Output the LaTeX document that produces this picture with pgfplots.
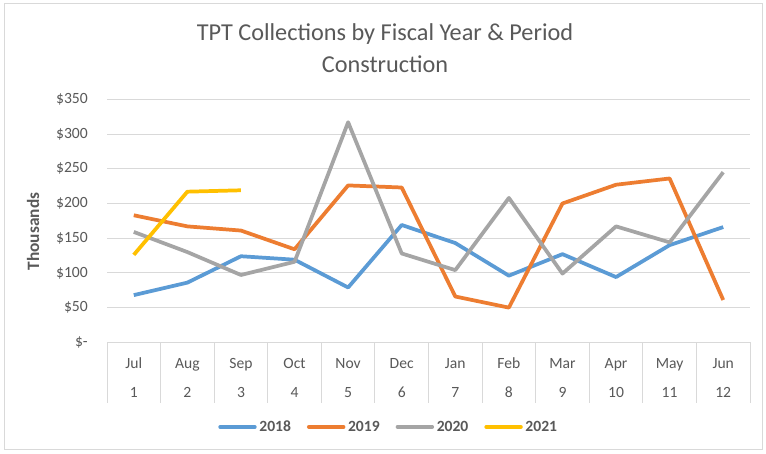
\documentclass[border=0pt]{standalone}
\usepackage{pgfplots}
\pgfplotsset{compat=1.18}
\usepackage{fontspec}
\setmainfont{Carlito}
\definecolor{c18}{HTML}{5B9BD5}
\definecolor{c19}{HTML}{ED7D31}
\definecolor{c20}{HTML}{A5A5A5}
\definecolor{c21}{HTML}{FFC000}
\definecolor{txt}{HTML}{595959}
\definecolor{gridc}{HTML}{D9D9D9}
\begin{document}
\begin{tikzpicture}
\useasboundingbox (0,0) rectangle (574.5pt,339.75pt);
\fill[white] (0,0) rectangle (574.5pt,339.75pt);
\draw[gridc, line width=0.75pt] (3pt,2.5pt) rectangle (571.5pt,337pt);
\begin{axis}[
  at={(80.25pt,83pt)}, anchor=south west,
  scale only axis, width=482.25pt, height=182.25pt,
  xmin=0.5, xmax=12.5, ymin=0, ymax=350,
  clip=false,
  axis line style={draw=none},
  major tick length=0pt,
  ytick={0,50,...,350},
  yticklabels={\$-,\$50,\$100,\$150,\$200,\$250,\$300,\$350},
  ymajorgrids, grid style={gridc, line width=0.75pt},
  xtick={1,...,12},
  xticklabels={Jul,Aug,Sep,Oct,Nov,Dec,Jan,Feb,Mar,Apr,May,Jun},
  extra x ticks={1,...,12},
  extra x tick labels={1,2,3,4,5,6,7,8,9,10,11,12},
  extra x tick style={grid=none, xticklabel style={yshift=-21.8pt}},
  ticklabel style={font=\fontsize{11.7}{13}\selectfont, text=txt},
  yticklabel style={anchor=east, inner sep=0pt, xshift=-14.25pt},
  xticklabel style={anchor=base, inner sep=0pt, yshift=-19.5pt},
  legend style={at={(0.4386,-0.348)}, anchor=center, draw=none, fill=none,
    legend columns=4, font=\bfseries\fontsize{11.7}{13}\selectfont, text=txt,
    /tikz/every even column/.append style={column sep=10pt}},
  legend image code/.code={\draw[#1, line cap=round] (0pt,0pt) -- (26pt,0pt);},
  every axis plot/.append style={line width=2.8pt, line join=round, mark=none},
]
\addplot[c18] coordinates {(1,68) (2,86) (3,124) (4,119) (5,79) (6,169) (7,143) (8,96) (9,127) (10,94) (11,140) (12,166)};
\addplot[c19] coordinates {(1,183) (2,167) (3,161) (4,134) (5,226) (6,223) (7,66) (8,50) (9,200) (10,227) (11,236) (12,61)};
\addplot[c20] coordinates {(1,159) (2,130) (3,97) (4,116) (5,317) (6,128) (7,104) (8,208) (9,99) (10,167) (11,144) (12,245)};
\addplot[c21] coordinates {(1,126) (2,217) (3,219)};
\legend{2018,2019,2020,2021}
\pgfplotsinvokeforeach{0.5,1.5,...,12.5}{\draw[gridc, line width=0.75pt] (axis cs:#1,0) -- ++(0pt,-45.5pt);}
\end{axis}
\node[anchor=base, font=\fontsize{18.2}{20}\selectfont, text=txt, inner sep=0pt] at (288.75pt,309.2pt) {TPT Collections by Fiscal Year \& Period};
\node[anchor=base, font=\fontsize{18.2}{20}\selectfont, text=txt, inner sep=0pt] at (288.75pt,285.5pt) {Construction};
\node[rotate=90, font=\bfseries\fontsize{13}{15}\selectfont, text=txt, inner sep=0pt] at (24.75pt,166.1pt) {Thousands};
\end{tikzpicture}
\end{document}
